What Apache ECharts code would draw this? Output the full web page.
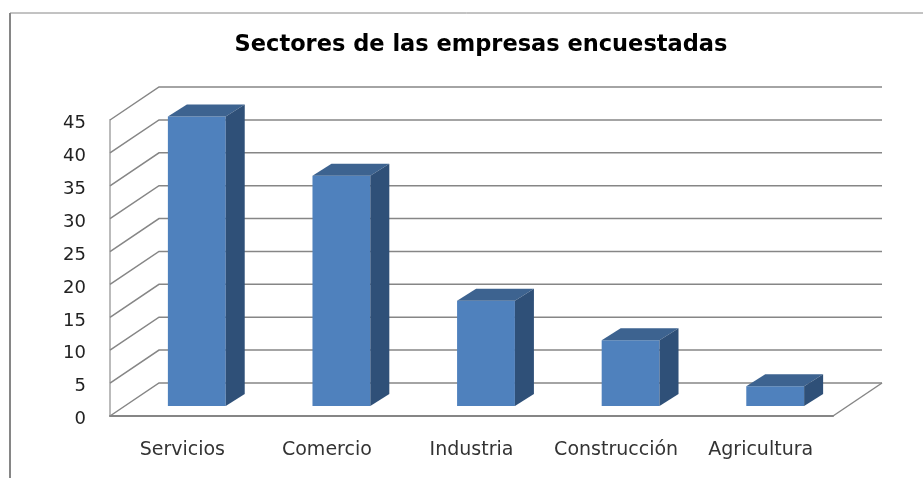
<!DOCTYPE html>
<html>
<head>
<meta charset="utf-8">
<script src="https://cdn.jsdelivr.net/npm/echarts@6/dist/echarts.min.js"></script>
<style>
  html, body { margin: 0; padding: 0; background: #fff; }
  #chart { width: 923px; height: 478px; }
</style>
</head>
<body>
<div id="chart"></div>
<script>
var categories = ['Servicios', 'Comercio', 'Industria', 'Construcción', 'Agricultura'];
var values = [44, 35, 16, 10, 3];
var yTicks = [0, 5, 10, 15, 20, 25, 30, 35, 40, 45];

var myChart = echarts.init(document.getElementById('chart'));

// fake 3D: wall depth and bar depth in pixels
var WALL_DX = 49, WALL_DY = -33;
var BAR_X = 14.5, BAR_Y = -10;
var BAR_DX = 19, BAR_DY = -12;
var LINE = '#868686';

function wallItem(params, api) {
  var cs = params.coordSys;
  var y = api.coord([0, api.value(1)])[1];
  var x0 = cs.x, x1 = cs.x + cs.width;
  var line = { stroke: LINE, lineWidth: 1.5, fill: null };
  var children = [{
    type: 'polyline',
    shape: { points: [[x0, y], [x0 + WALL_DX, y + WALL_DY], [x1 + WALL_DX, y + WALL_DY]] },
    style: line
  }];
  if (api.value(1) === 0) {
    children.push({
      type: 'line',
      shape: { x1: x1, y1: y, x2: x1 + WALL_DX, y2: y + WALL_DY },
      style: line
    });
  }
  return { type: 'group', children: children };
}

function barItem(params, api) {
  var top = api.coord([api.value(0), api.value(1)]);
  var base = api.coord([api.value(0), 0]);
  var w = api.size([1, 0])[0] * 0.4;
  var l = top[0] - w / 2 + BAR_X, r = l + w;
  var t = top[1] + BAR_Y, b = base[1] + BAR_Y;
  return {
    type: 'group',
    children: [
      { type: 'rect', shape: { x: l, y: t, width: w, height: b - t }, style: { fill: '#4F81BD' } },
      { type: 'polygon', shape: { points: [[l, t], [l + BAR_DX, t + BAR_DY], [r + BAR_DX, t + BAR_DY], [r, t]] }, style: { fill: '#3D6390' } },
      { type: 'polygon', shape: { points: [[r, t], [r + BAR_DX, t + BAR_DY], [r + BAR_DX, b + BAR_DY], [r, b]] }, style: { fill: '#2F5078' } }
    ]
  };
}

var option = {
  animation: false,
  backgroundColor: '#fff',
  title: {
    text: 'Sectores de las empresas encuestadas',
    left: 476,
    textAlign: 'center',
    top: 29,
    textStyle: { fontFamily: 'DejaVu Sans', fontSize: 22.5, fontWeight: 'bold', color: '#000' }
  },
  grid: { left: 110, top: 120, width: 723, height: 296 },
  xAxis: {
    type: 'category',
    data: categories,
    axisTick: { show: false },
    axisLine: { lineStyle: { color: LINE, width: 2 } },
    axisLabel: { interval: 0, hideOverlap: false, margin: 25, fontFamily: 'DejaVu Sans', fontSize: 19, color: '#333' }
  },
  yAxis: {
    type: 'value',
    min: 0,
    max: 45,
    interval: 5,
    splitLine: { show: false },
    axisTick: { show: false },
    axisLine: { show: true, lineStyle: { color: '#bbb', width: 2 } },
    axisLabel: { margin: 24, verticalAlign: 'top', lineHeight: 7, fontFamily: 'DejaVu Sans', fontSize: 18, color: '#222' }
  },
  series: [
    {
      type: 'custom',
      renderItem: wallItem,
      data: yTicks.map(function (v) { return [0, v]; }),
      z: 1
    },
    {
      type: 'custom',
      renderItem: barItem,
      data: values.map(function (v, i) { return [i, v]; }),
      z: 2
    }
  ],
  graphic: [
    { type: 'line', shape: { x1: 10, y1: 13, x2: 923, y2: 13 }, style: { stroke: LINE, lineWidth: 1 } },
    { type: 'line', shape: { x1: 10, y1: 13, x2: 10, y2: 478 }, style: { stroke: LINE, lineWidth: 2 } }
  ]
};
myChart.setOption(option);
</script>
</body>
</html>
